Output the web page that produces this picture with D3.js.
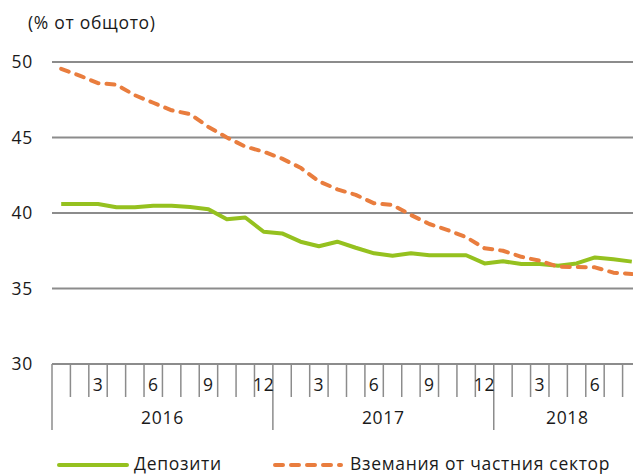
<!DOCTYPE html>
<html>
<head>
<meta charset="utf-8">
<script src="https://cdn.jsdelivr.net/npm/d3@7"></script>
<style>
  body { margin: 0; background: #fff; }
  text { font-family: "Open Sans", sans-serif; fill: #1a1a1a; font-size: 17.5px; letter-spacing: 0.7px; }
</style>
</head>
<body>
<div id="chart"></div>
<script>
// data
var years = ["2016", "2017", "2018"];
var monthsPerYear = [12, 12, 8];
var monthLabels = ["", "", "3", "", "", "6", "", "", "9", "", "", "12",
                   "", "", "3", "", "", "6", "", "", "9", "", "", "12",
                   "", "", "3", "", "", "6", "", ""];
var deposits = [40.6, 40.6, 40.6, 40.38, 40.38, 40.48, 40.48, 40.4, 40.25, 39.58, 39.7, 38.76,
                38.65, 38.1, 37.8, 38.1, 37.7, 37.33, 37.17, 37.33, 37.2, 37.2, 37.2, 36.66,
                36.8, 36.62, 36.62, 36.5, 36.66, 37.06, 36.93, 36.78];
var claims = [49.55, 49.1, 48.6, 48.5, 47.8, 47.3, 46.8, 46.55, 45.7, 45.0, 44.4, 44.06,
              43.6, 43.0, 42.1, 41.57, 41.2, 40.64, 40.53, 39.87, 39.27, 38.87, 38.4, 37.66,
              37.5, 37.1, 36.84, 36.44, 36.42, 36.4, 36.05, 35.96];
var yTicks = [30, 35, 40, 45, 50];
var seriesNames = ["Депозити", "Вземания от частния сектор"];

//chart set ups
var svgWidth = 633;
var svgHeight = 474;
var plotLeft = 52, plotRight = 641, plotTop = 62, plotBottom = 364;
var gridColor = "#8c8c8c";
var green = "#95c11f";
var orange = "#e97d3e";

var svg = d3.select("#chart")
            .append("svg")
            .attr("width", svgWidth)
            .attr("height", svgHeight);

var idx = d3.range(deposits.length);
var x = d3.scaleBand().domain(idx).range([plotLeft, plotRight]);
var y = d3.scaleLinear().domain([30, 50]).range([plotBottom, plotTop]);

// title
svg.append("text")
   .attr("x", 28)
   .attr("y", 29)
   .text("(% от общото)");

// gridlines
svg.selectAll(".grid")
   .data(yTicks)
   .enter()
   .append("line")
   .attr("x1", plotLeft)
   .attr("x2", plotRight)
   .attr("y1", d => y(d))
   .attr("y2", d => y(d))
   .attr("stroke", gridColor)
   .attr("stroke-width", 2);

// y labels
svg.selectAll(".ylab")
   .data(yTicks)
   .enter()
   .append("text")
   .attr("x", 33)
   .attr("y", d => y(d) + 6)
   .attr("text-anchor", "end")
   .text(d => d);

// x ticks: short for months, long at year starts
var yearStarts = [0];
monthsPerYear.forEach((m, i) => yearStarts.push(yearStarts[i] + m));
svg.selectAll(".xtick")
   .data(idx)
   .enter()
   .append("line")
   .attr("x1", d => x(d))
   .attr("x2", d => x(d))
   .attr("y1", plotBottom)
   .attr("y2", d => yearStarts.indexOf(d) >= 0 ? 430 : 397)
   .attr("stroke", gridColor)
   .attr("stroke-width", 1.5);

svg.selectAll(".mlab")
   .data(idx)
   .enter()
   .append("text")
   .attr("x", d => x(d) + x.bandwidth() / 2)
   .attr("y", 391)
   .attr("text-anchor", "middle")
   .text(d => monthLabels[d]);

svg.selectAll(".yrlab")
   .data(years)
   .enter()
   .append("text")
   .attr("x", (d, i) => x(yearStarts[i]) + monthsPerYear[i] * x.step() / 2)
   .attr("y", 424)
   .attr("text-anchor", "middle")
   .text(d => d);

// lines
var line = d3.line()
  .x((d, i) => x(i) + x.bandwidth() / 2)
  .y(d => y(d));

svg.append("path")
   .datum(deposits)
   .attr("d", line)
   .attr("fill", "none")
   .attr("stroke", green)
   .attr("stroke-width", 4)
   .attr("stroke-linejoin", "round");

svg.append("path")
   .datum(claims)
   .attr("d", line)
   .attr("fill", "none")
   .attr("stroke", orange)
   .attr("stroke-width", 4)
   .attr("stroke-dasharray", "8,8")
   .attr("stroke-linecap", "round")
   .attr("stroke-linejoin", "round");

// legend
var legend = svg.append("g");
legend.append("line")
      .attr("x1", 59).attr("x2", 127)
      .attr("y1", 465).attr("y2", 465)
      .attr("stroke", green)
      .attr("stroke-width", 4)
      .attr("stroke-linecap", "round");
legend.append("text")
      .attr("x", 134).attr("y", 470)
      .text(seriesNames[0]);
legend.append("line")
      .attr("x1", 275).attr("x2", 341)
      .attr("y1", 465).attr("y2", 465)
      .attr("stroke", orange)
      .attr("stroke-width", 4)
      .attr("stroke-dasharray", "8,8")
      .attr("stroke-linecap", "round");
legend.append("text")
      .attr("x", 350).attr("y", 470)
      .text(seriesNames[1]);
</script>
</body>
</html>
